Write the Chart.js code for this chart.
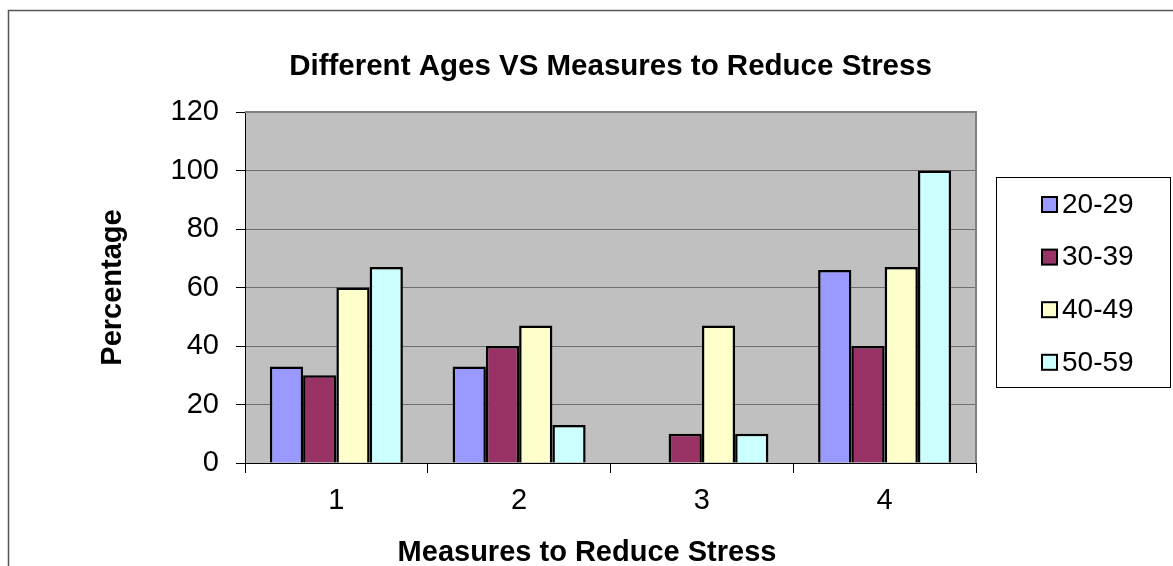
<!DOCTYPE html>
<html lang="en">
<head>
  <meta charset="UTF-8">
  <title>Different Ages VS Measures to Reduce Stress</title>
  <style>
    html, body { margin: 0; padding: 0; background: #fff; }
    #stressChart { display: block; }
  </style>
</head>
<body>
  <canvas id="stressChart" width="1173" height="566"></canvas>

  <script src="https://cdn.jsdelivr.net/npm/chart.js"></script>
  <script>
    // valores
    const categories = ['1', '2', '3', '4'];
    const ageLabels = ['20-29', '30-39', '40-49', '50-59'];
    const age2029 = [33, 33, 0, 66];
    const age3039 = [30, 40, 10, 40];
    const age4049 = [60, 47, 47, 67];
    const age5059 = [67, 13, 10, 100];
    const yTicks = [0, 20, 40, 60, 80, 100, 120];
    const xTitle = 'Measures to Reduce Stress';

    const barColors = ['#9999FF', '#993366', '#FFFFCC', '#CCFFFF'];
    const seriesValues = [age2029, age3039, age4049, age5059];

    Chart.defaults.font.family = "'Liberation Sans', Arial, sans-serif";
    Chart.defaults.color = '#000';

    // fundo cinza da área do gráfico + moldura externa
    const framePlugin = {
      id: 'frame',
      beforeDraw(chart) {
        const { ctx, chartArea: a } = chart;
        ctx.save();
        ctx.fillStyle = '#C0C0C0';
        ctx.fillRect(a.left, a.top, a.right - a.left, a.bottom - a.top);
        ctx.strokeStyle = '#555';
        ctx.lineWidth = 1.5;
        ctx.strokeRect(8.5, 10.5, 1300, 700);
        ctx.restore();
      },
      afterDatasetsDraw(chart) {
        const { ctx, chartArea: a } = chart;
        ctx.save();
        ctx.strokeStyle = '#808080';
        ctx.lineWidth = 2;
        ctx.beginPath();
        ctx.moveTo(a.left, a.top);
        ctx.lineTo(a.right, a.top);
        ctx.lineTo(a.right, a.bottom);
        ctx.stroke();
        ctx.restore();
      }
    };

    // legenda e título do eixo x desenhados à mão
    const boxLegend = {
      id: 'boxLegend',
      afterDraw(chart) {
        const { ctx } = chart;
        ctx.save();
        ctx.strokeStyle = '#000';
        ctx.lineWidth = 1;
        ctx.strokeRect(996.5, 177.5, 174, 210);
        ctx.font = "28px 'Liberation Sans', Arial, sans-serif";
        ctx.textBaseline = 'middle';
        ctx.textAlign = 'left';
        chart.data.datasets.forEach((ds, i) => {
          const y = 204 + i * 52.6;
          ctx.fillStyle = ds.backgroundColor;
          ctx.fillRect(1042, y - 7, 15, 15);
          ctx.lineWidth = 2;
          ctx.strokeRect(1042, y - 7, 15, 15);
          ctx.fillStyle = '#000';
          ctx.fillText(ds.label, 1062, y + 1);
        });

        ctx.font = "bold 29px 'Liberation Sans', Arial, sans-serif";
        ctx.textAlign = 'center';
        ctx.fillText(xTitle, 587, 553);
        ctx.restore();
      }
    };

    new Chart(document.getElementById('stressChart'), {
      type: 'bar',
      data: {
        labels: categories,
        datasets: ageLabels.map((label, i) => ({
          label: label,
          data: seriesValues[i],
          backgroundColor: barColors[i],
          borderColor: '#000',
          borderWidth: 2.5,
          categoryPercentage: 0.728,
          barPercentage: 1
        }))
      },
      options: {
        responsive: false,
        animation: false,
        layout: { padding: { left: 0, top: 0, right: 197, bottom: 0 } },
        plugins: {
          legend: { display: false },
          tooltip: { enabled: false },
          title: {
            display: true,
            fullSize: false,
            text: 'Different Ages VS Measures to Reduce Stress',
            font: { size: 29.5, weight: 'bold', lineHeight: 1 },
            padding: { top: 52, bottom: 30.5 }
          }
        },
        scales: {
          x: {
            afterFit(scale) { scale.height = 103; },
            grid: {
              offset: true,
              drawOnChartArea: false,
              tickLength: 10,
              tickColor: '#000'
            },
            border: { color: '#000', width: 1 },
            ticks: { font: { size: 29 }, padding: 11 }
          },
          y: {
            min: 0,
            max: 120,
            afterFit(scale) { scale.width = 245; },
            afterBuildTicks(scale) { scale.ticks = yTicks.map(v => ({ value: v })); },
            grid: {
              color: '#6E6E6E',
              lineWidth: 1,
              tickLength: 9,
              tickColor: '#000'
            },
            border: { color: '#000', width: 1 },
            ticks: { font: { size: 29 }, padding: 17 },
            title: {
              display: true,
              text: 'Percentage',
              font: { size: 29, weight: 'bold', lineHeight: 1 },
              padding: { top: 98, bottom: 0 }
            }
          }
        }
      },
      plugins: [framePlugin, boxLegend]
    });
  </script>
</body>
</html>
